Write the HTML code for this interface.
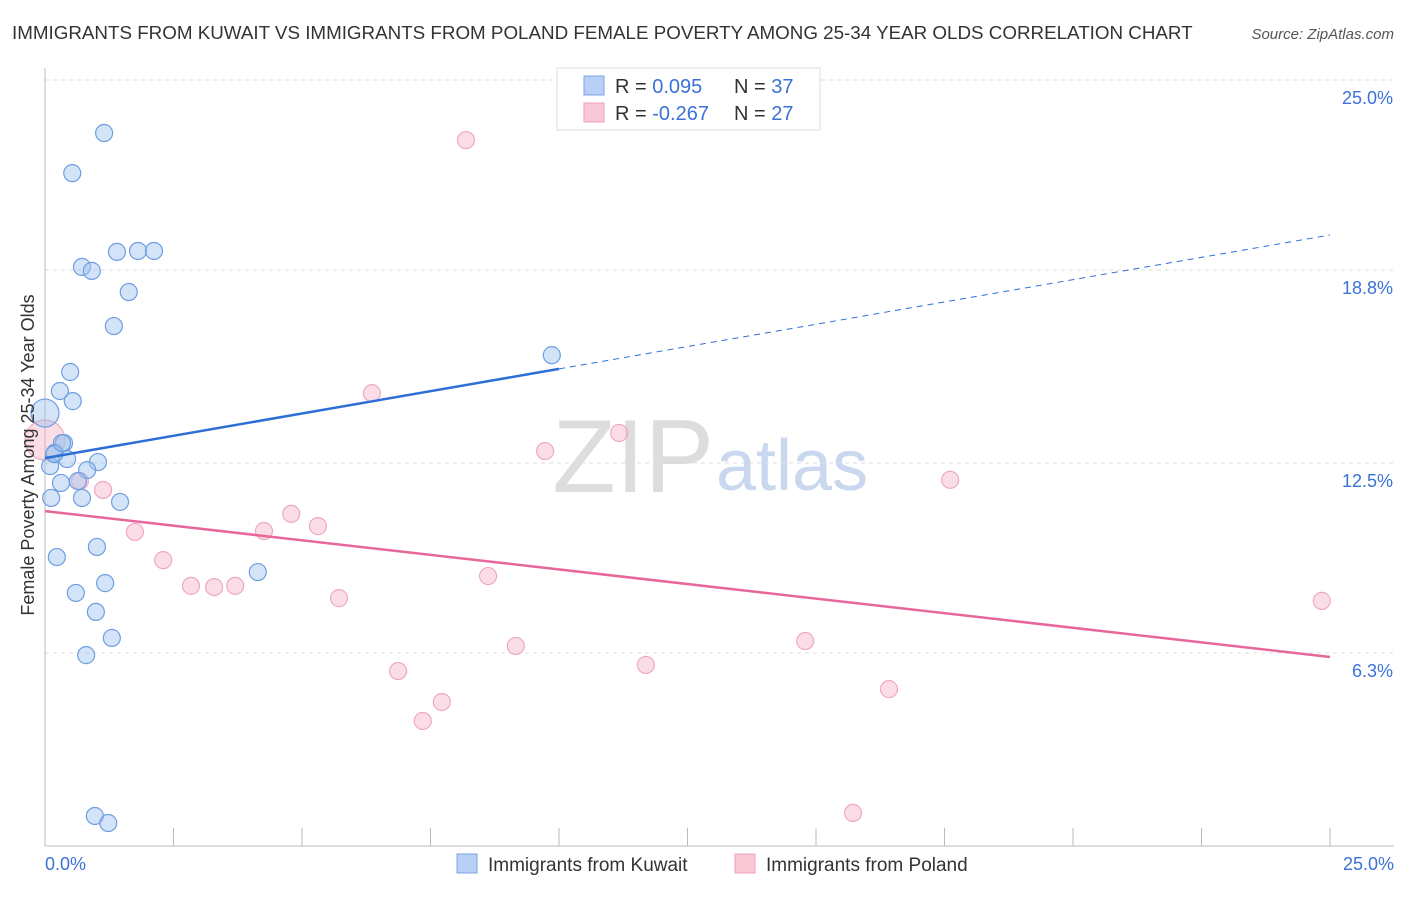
<!DOCTYPE html>
<html><head><meta charset="utf-8"><style>
body{margin:0;background:#fff;font-family:"Liberation Sans",sans-serif;}
svg text{font-family:"Liberation Sans",sans-serif;}
</style></head><body>
<svg id="c" width="1406" height="892" xmlns="http://www.w3.org/2000/svg">
<text x="12" y="39" font-size="18.8" fill="#333">IMMIGRANTS FROM KUWAIT VS IMMIGRANTS FROM POLAND FEMALE POVERTY AMONG 25-34 YEAR OLDS CORRELATION CHART</text>
<text x="1394" y="39" font-size="15" fill="#555" text-anchor="end" font-style="italic">Source: ZipAtlas.com</text>
<text x="714" y="492" font-size="104" fill="#ddd" text-anchor="end" font-family="Liberation Serif">ZIP</text>
<text x="716" y="490" font-size="72" fill="#c9d8ef">atlas</text>
<g id="grid"></g><g id="axes"></g><g id="marks"></g>
<text transform="translate(34,455) rotate(-90)" font-size="18" fill="#333" text-anchor="middle">Female Poverty Among 25-34 Year Olds</text>
<g>
<rect x="557" y="68" width="263" height="62" fill="#fff" stroke="#ddd"/>
<rect x="584" y="76" width="20" height="19" fill="#b8d0f5" stroke="#7ba3e3"/>
<rect x="584" y="103" width="20" height="19" fill="#f9c8d6" stroke="#eea0b8"/>
<text x="615" y="93" font-size="20" fill="#333">R = <tspan fill="#3a72d8">0.095</tspan></text>
<text x="734" y="93" font-size="20" fill="#333">N = <tspan fill="#3a72d8">37</tspan></text>
<text x="615" y="120" font-size="20" fill="#333">R = <tspan fill="#3a72d8">-0.267</tspan></text>
<text x="734" y="120" font-size="20" fill="#333">N = <tspan fill="#3a72d8">27</tspan></text>
</g>
<g>
<rect x="457" y="854" width="20" height="19" fill="#b8d0f5" stroke="#7ba3e3"/>
<text x="488" y="871" font-size="19" fill="#333">Immigrants from Kuwait</text>
<rect x="735" y="854" width="20" height="19" fill="#f9c8d6" stroke="#eea0b8"/>
<text x="766" y="871" font-size="19" fill="#333">Immigrants from Poland</text>
</g>
</svg>
<script>
const yTicks=[25.0,18.8,12.5,6.3];
const yTickLabels=["25.0%","18.8%","12.5%","6.3%"];
const kuwaitX=[1.15,0.53,1.40,1.81,2.12,0.72,0.91,1.63,1.34,9.86,0.49,0.29,0.54,0,0.37,0.19,0.43,1.03,0.10,0.82,0.31,0.64,0.12,0.72,1.46,0.23,1.01,1.17,4.14,0.60,0.99,1.30,0.80,0.97,1.23,0.18,0.33];
const kuwaitY=[23.27,21.96,19.39,19.42,19.42,18.90,18.77,18.08,16.97,16.02,15.47,14.85,14.52,14.13,13.15,12.83,12.63,12.53,12.40,12.27,11.85,11.91,11.36,11.36,11.23,9.43,9.76,8.58,8.94,8.26,7.64,6.79,6.23,0.98,0.75,12.79,13.15];
const polandX=[8.19,6.36,9.73,11.17,17.61,0,0.68,1.13,1.75,2.30,2.84,3.29,3.70,4.26,4.79,5.31,5.72,8.62,9.16,6.87,7.72,7.35,11.69,14.79,16.42,15.72,24.84];
const polandY=[23.04,14.78,12.89,13.48,11.95,13.25,11.91,11.62,10.25,9.33,8.49,8.45,8.49,10.28,10.84,10.44,8.09,8.81,6.53,5.71,4.70,4.08,5.91,6.69,5.12,1.08,8.00];
const kuwaitTrend=[12.66,19.94];
const polandTrend=[10.93,6.17];
const NS="http://www.w3.org/2000/svg";
const sx=v=>45+v*51.4, sy=v=>846-v*30.64;
function mk(t,a,p){const e=document.createElementNS(NS,t);for(const k in a)e.setAttribute(k,a[k]);document.getElementById(p).appendChild(e);return e;}
yTicks.forEach((t,i)=>{
 const l=mk('line',{x1:45,x2:1394,y1:sy(t),y2:sy(t),stroke:'#ddd','stroke-dasharray':'4,4'},'grid');
 
 
 const tx=mk('text',{x:1393,y:sy(t)+24,'font-size':18,fill:'#3a72d8','text-anchor':'end'},'grid');
 tx.textContent=yTickLabels[i];
 
 
});
let ax=mk('line',{x1:45,x2:45,y1:68,y2:846,stroke:'#bbb'},'axes');


ax=mk('line',{x1:45,x2:1394,y1:846,y2:846,stroke:'#bbb'},'axes');


for(let i=1;i<=10;i++){const x=sx(i*2.5);const t=mk('line',{x1:x,x2:x,y1:828,y2:846,stroke:'#bbb'},'axes');
 
 }
let xl=mk('text',{x:45,y:870,'font-size':18,fill:'#3a72d8'},'axes');xl.textContent='0.0%';


xl=mk('text',{x:1394,y:870,'font-size':18,fill:'#3a72d8','text-anchor':'end'},'axes');xl.textContent='25.0%';


polandX.forEach((x,i)=>{const c=mk('circle',{cx:sx(x),cy:sy(polandY[i]),r:x===0?20:8.5,fill:'rgba(246,170,195,0.4)',stroke:'#f0a8c0','stroke-width':1.2},'marks');
 
 });
kuwaitX.forEach((x,i)=>{const c=mk('circle',{cx:sx(x),cy:sy(kuwaitY[i]),r:x===0?14:8.5,fill:'rgba(160,195,240,0.45)',stroke:'#6f9ee0','stroke-width':1.2},'marks');
 
 });
const ky=x=>kuwaitTrend[0]+(kuwaitTrend[1]-kuwaitTrend[0])*x/25;
let tl=mk('line',{x1:sx(0),y1:sy(ky(0)),x2:sx(10),y2:sy(ky(10)),stroke:'#2d6fd6','stroke-width':2.5},'marks');


tl=mk('line',{x1:sx(10),y1:sy(ky(10)),x2:sx(25),y2:sy(ky(25)),stroke:'#2d6fd6','stroke-width':1,'stroke-dasharray':'6,5'},'marks');


tl=mk('line',{x1:sx(0),y1:sy(polandTrend[0]),x2:sx(25),y2:sy(polandTrend[1]),stroke:'#e8679a','stroke-width':2.5},'marks');


</script>
</body></html>
